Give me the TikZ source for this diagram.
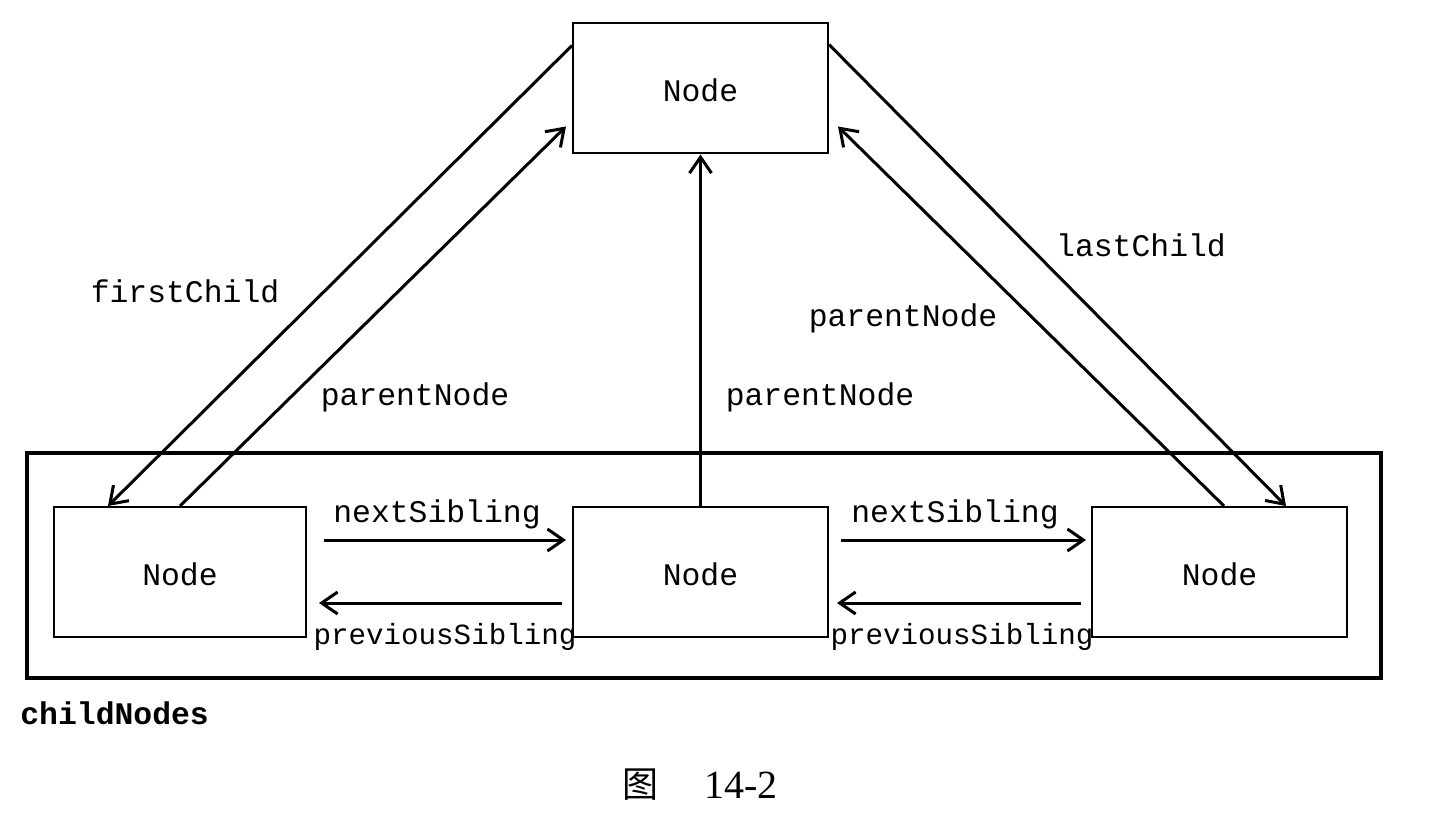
\documentclass[tikz,border=0pt]{standalone}
\usepackage{fontspec}
\setmainfont{Liberation Serif}
\setmonofont{Liberation Mono}
\newfontfamily\cjkfont{Noto Sans CJK SC}
\usetikzlibrary{arrows.meta,calc}
\begin{document}
\begin{tikzpicture}[x=0.5pt,y=-0.5pt,
  nodebox/.style={draw,line width=1pt,rectangle,inner sep=0pt,minimum width=127.5pt,minimum height=65pt,text height=13.5pt,text depth=0pt,font=\ttfamily\fontsize{15.7pt}{18pt}\selectfont},
  conn/.style={line width=1.5pt,-{Straight Barb[length=8pt,width=11pt,line width=1.5pt]}},
  lbl/.style={font=\ttfamily\fontsize{15.7pt}{18pt}\selectfont,inner sep=0pt},
  plbl/.style={font=\ttfamily\fontsize{14.6pt}{18pt}\selectfont,inner sep=0pt}]
\useasboundingbox (0,0) rectangle (1448,824);
\node[draw,line width=2.2pt,rectangle,minimum width=677pt,minimum height=112.5pt,inner sep=0pt] (outer) at (704,565.5) {};
\node[nodebox] (top) at (700.5,88.5) {Node};
\node[nodebox,minimum width=126pt] (A) at (180,572) {Node};
\node[nodebox] (B) at (700.5,572) {Node};
\node[nodebox] (C) at (1219.5,572) {Node};
% sibling arrows
\draw[conn] ($(A.east)+(17,-32)$) -- ($(B.west)+(-6,-32)$);
\draw[conn] ($(B.west)+(-10,31)$) -- ($(A.east)+(12,31)$);
\draw[conn] ($(B.east)+(12,-32)$) -- ($(C.west)+(-5,-32)$);
\draw[conn] ($(C.west)+(-10,31)$) -- ($(B.east)+(8,31)$);
\node[lbl] (ns1) at (437,514) {nextSibling};
\node[plbl] (ps1) at (445,637) {previousSibling};
\node[lbl] (ns2) at (955,514) {nextSibling};
\node[plbl] (ps2) at (962,637) {previousSibling};
% vertical
\draw[conn] (B.north) -- (top.south);
\node[lbl] (pn2) at (820,397) {parentNode};
% left diagonal
\draw[conn] ($(top.north west)+(0,23)$) -- ($(A.north west)+(55,0)$);
\draw[conn] (A.north) -- ($(top.north west)+(-6,104)$);
\node[lbl] (fc) at (185,291) {firstChild};
\node[lbl] (pn1) at (415,397) {parentNode};
% right diagonal
\draw[conn] ($(top.north east)+(0,22)$) -- ($(C.north west)+(195,0)$);
\draw[conn] ($(C.north west)+(133,0)$) -- ($(top.north east)+(9,104)$);
\node[lbl] (lc) at (1141,245) {lastChild};
\node[lbl] (pn3) at (903,318) {parentNode};
% captions
\node[lbl,anchor=west,font=\ttfamily\bfseries\fontsize{15.7pt}{18pt}\selectfont] (cn) at (20,713) {childNodes};
\node[inner sep=0pt,font=\cjkfont\fontsize{18pt}{20pt}\selectfont] (fig) at (640,785) {图};
\node[inner sep=0pt,font=\fontsize{20pt}{22pt}\selectfont] (num) at (741,785) {14-2};
\end{tikzpicture}
\end{document}
